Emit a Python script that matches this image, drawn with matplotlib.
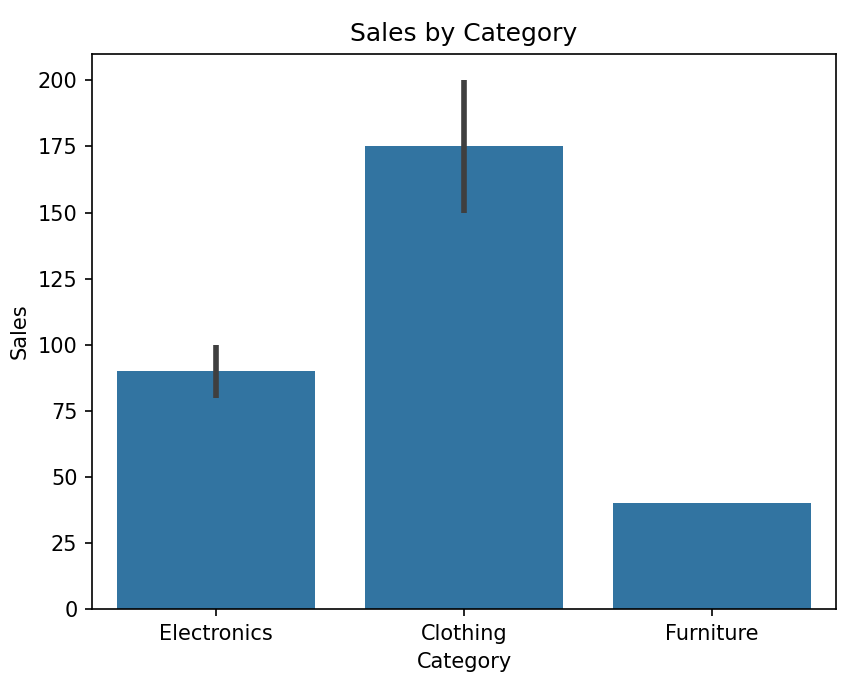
import numpy as np
import matplotlib
matplotlib.use("Agg")
import matplotlib.pyplot as plt

# Raw sales records per category
categories = ['Electronics', 'Clothing', 'Furniture']
sales = {
    'Electronics': [100, 80],
    'Clothing': [150, 200],
    'Furniture': [40],
}

means = [np.mean(sales[c]) for c in categories]
lows = [min(sales[c]) for c in categories]
highs = [max(sales[c]) for c in categories]

DPI = 150
fig = plt.figure(figsize=(861 / DPI, 683 / DPI), dpi=DPI)
ax = fig.add_axes([92 / 861, 74 / 683, 744 / 861, 555 / 683])

x = np.arange(len(categories))
ax.bar(x, means, width=0.8, color='#3274a1')

# error bars (only where there is more than one record)
for xi, c, lo, hi in zip(x, categories, lows, highs):
    if len(sales[c]) > 1:
        ax.plot([xi, xi], [lo, hi], color='#3f3f3f', linewidth=2.7,
                solid_capstyle='butt')

ax.set_xticks(x)
ax.set_xticklabels(categories)
ax.set_xlim(-0.5, len(categories) - 0.5)
ax.set_ylim(0, 210)
ax.set_xlabel('Category')
ax.set_ylabel('Sales')
ax.set_title('Sales by Category')

fig.savefig('out.png', dpi=DPI)
